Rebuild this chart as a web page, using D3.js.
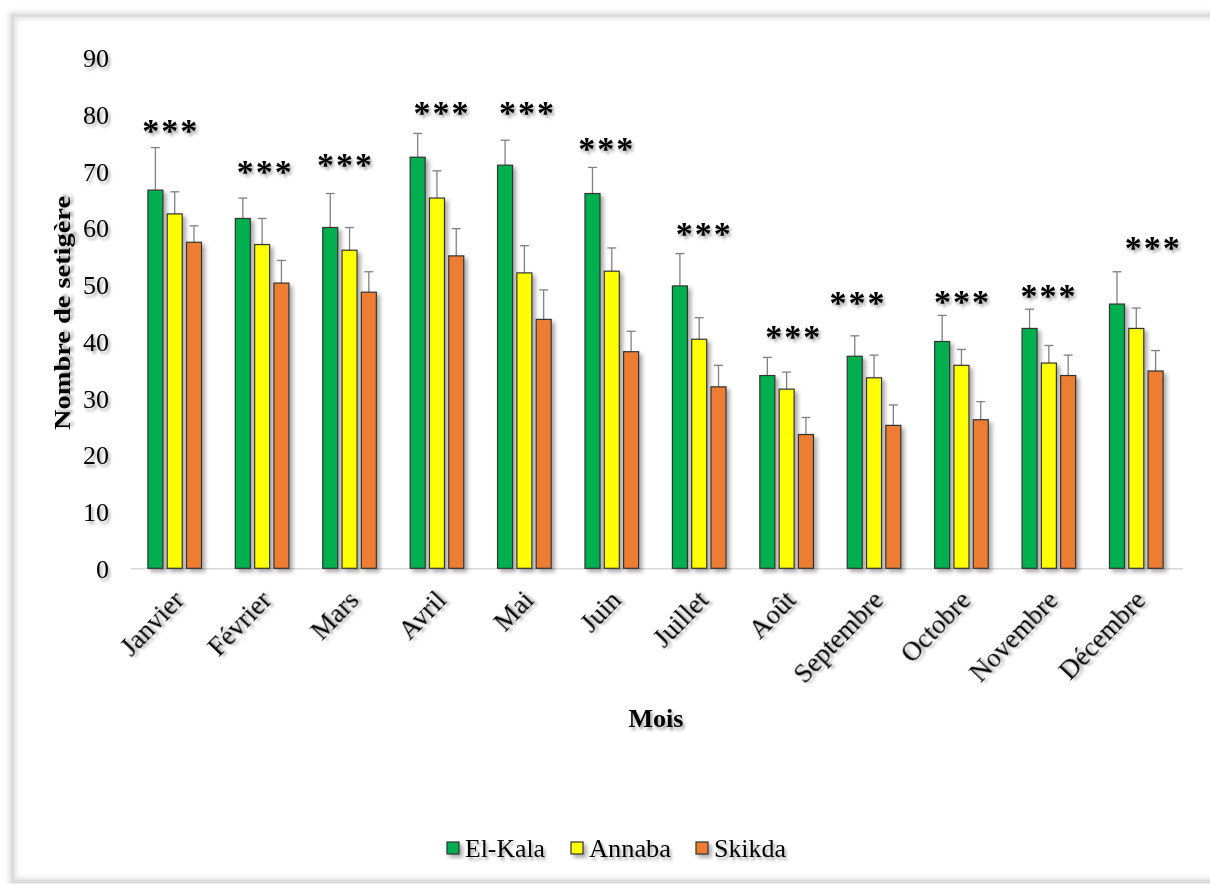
<!DOCTYPE html>
<html><head><meta charset="utf-8">
<script src="https://cdn.jsdelivr.net/npm/d3@7"></script>
<style>
html,body{margin:0;padding:0;background:#fff;}
svg{display:block;}
text{font-family:"Liberation Serif","Times New Roman",serif;fill:#000;}
</style></head>
<body><svg id="c" width="1210" height="884"></svg>
<script>
const months = ["Janvier","Février","Mars","Avril","Mai","Juin","Juillet","Août","Septembre","Octobre","Novembre","Décembre"];
const seriesNames = ["El-Kala","Annaba","Skikda"];
const elKala = [66.7,61.7,60.1,72.5,71.1,66.1,49.8,34.0,37.4,40.0,42.3,46.6];
const annaba = [62.5,57.1,56.1,65.3,52.1,52.4,40.4,31.6,33.6,35.8,36.2,42.3];
const skikda = [57.5,50.3,48.7,55.1,43.9,38.2,32.0,23.6,25.2,26.2,34.0,34.8];
const elKalaErr = [7.5,3.6,6.0,4.2,4.4,4.6,5.7,3.2,3.6,4.6,3.4,5.7];
const annabaErr = [3.9,4.6,4.0,4.8,4.8,4.1,3.8,3.0,4.0,2.8,3.1,3.6];
const skikdaErr = [2.9,4.0,3.6,4.8,5.2,3.6,3.8,3.0,3.6,3.2,3.6,3.6];
const sigLabels = ["***","***","***","***","***","***","***","***","***","***","***","***"];
const sigLevel = [78.5,71.3,72.4,81.7,81.7,75.3,60.4,42.2,48.1,48.4,49.3,57.9];
const yTicks = [0,10,20,30,40,50,60,70,80,90];
const colors = ["#00b050","#ffff00","#ed7d31"];

const values = [elKala, annaba, skikda];
const errs = [elKalaErr, annabaErr, skikdaErr];

const svg = d3.select("#c");
const defs = svg.append("defs");
const f = defs.append("filter").attr("id","sh").attr("x","-50%").attr("y","-50%").attr("width","200%").attr("height","200%");
f.append("feDropShadow").attr("dx",3).attr("dy",3).attr("stdDeviation",2).attr("flood-color","#000").attr("flood-opacity",0.35);
const ft = defs.append("filter").attr("id","tsh").attr("x","-20%").attr("y","-30%").attr("width","140%").attr("height","170%");
ft.append("feDropShadow").attr("dx",2).attr("dy",3).attr("stdDeviation",1.6).attr("flood-color","#000").attr("flood-opacity",0.35);
const fb = defs.append("filter").attr("id","bsh").attr("x","-5%").attr("y","-5%").attr("width","110%").attr("height","110%");
fb.append("feGaussianBlur").attr("stdDeviation",2);

// frame
svg.append("rect").attr("x",12.5).attr("y",15.5).attr("width",1260).attr("height",866)
  .attr("fill","none").attr("stroke","#e4e4e4").attr("stroke-width",8).attr("filter","url(#bsh)");
svg.append("rect").attr("x",12.5).attr("y",15.5).attr("width",1260).attr("height",866)
  .attr("fill","none").attr("stroke","#dcdcdc").attr("stroke-width",3);

const x0 = d3.scaleBand().domain(months).range([131,1180]).paddingInner(0).paddingOuter(0);
const y = d3.scaleLinear().domain([0,90]).range([568.3,58]);
const barW = 15, barStep = 19.3;

// y tick labels
const ya = svg.append("g").attr("transform","translate(109,0)")
  .call(d3.axisLeft(y).tickValues(yTicks).tickSize(0).tickPadding(0));
ya.select(".domain").remove();
ya.selectAll("text").attr("font-family","Liberation Serif, serif").attr("font-size",26).attr("fill","#000").attr("filter","url(#tsh)").attr("dy","0.34em");

// baseline
const xa = svg.append("g").attr("transform","translate(0,568.3)")
  .call(d3.axisBottom(x0).tickSize(0).tickFormat(""));
xa.select(".domain").attr("stroke","#d9d9d9").attr("stroke-width",1.5).attr("d","M131,0.5H1183");

// bars
const groups = svg.append("g").selectAll("g").data(months).join("g")
  .attr("transform", d => `translate(${x0(d)+x0.bandwidth()/2},0)`);
values.forEach((vals, s) => {
  const off = (s-1)*barStep;
  groups.append("line")
    .attr("x1", off).attr("x2", off)
    .attr("y1", (d,i)=>y(vals[i])).attr("y2",(d,i)=>y(vals[i]+errs[s][i]))
    .attr("stroke","#808080").attr("stroke-width",1.3);
  groups.append("line")
    .attr("x1", off-4.5).attr("x2", off+4.5)
    .attr("y1", (d,i)=>y(vals[i]+errs[s][i])).attr("y2",(d,i)=>y(vals[i]+errs[s][i]))
    .attr("stroke","#808080").attr("stroke-width",1.3);
  groups.append("rect")
    .attr("x", off-barW/2).attr("width", barW)
    .attr("y",(d,i)=>y(vals[i])).attr("height",(d,i)=>y(0)-y(vals[i]))
    .attr("fill",colors[s]).attr("stroke","#333").attr("stroke-width",1.2)
    .attr("filter","url(#sh)");
});

// significance labels (text-box offsets relative to group centre)
const sigDx = [-5,2,-5,4,2,-6,4,6,-17,0,-1,16];
groups.append("text")
  .attr("x",(d,i)=>sigDx[i]+1).attr("y",(d,i)=>y(sigLevel[i]))
  .attr("dy","0.55em").attr("text-anchor","middle")
  .attr("font-family","DejaVu Sans, sans-serif").attr("font-weight","bold").attr("font-size",34).attr("letter-spacing",2)
  .attr("filter","url(#tsh)")
  .text((d,i)=>sigLabels[i]);

// x labels rotated
groups.append("text")
  .attr("transform","translate(5,596) rotate(-46)")
  .attr("text-anchor","end").attr("font-size",27).attr("dy","0.3em")
  .attr("filter","url(#tsh)")
  .text(d=>d);

// axis titles
svg.append("text").attr("transform","translate(70,313) rotate(-90)")
  .attr("text-anchor","middle").attr("font-size",23).attr("font-weight","bold")
  .attr("textLength",234).attr("lengthAdjust","spacingAndGlyphs")
  .attr("filter","url(#tsh)").text("Nombre de setigère");
svg.append("text").attr("x",656).attr("y",727).attr("text-anchor","middle")
  .attr("font-size",25).attr("font-weight","bold")
  .attr("textLength",55).attr("lengthAdjust","spacingAndGlyphs")
  .attr("filter","url(#tsh)").text("Mois");

// legend
const legX = [447,571,696];
const legLen = [80,82,72];
const leg = svg.append("g").selectAll("g").data(seriesNames).join("g")
  .attr("transform",(d,i)=>`translate(${legX[i]},842)`);
leg.append("rect").attr("width",12).attr("height",12).attr("fill",(d,i)=>colors[i])
  .attr("stroke","#333").attr("stroke-width",1.2).attr("filter","url(#sh)");
leg.append("text").attr("x",18).attr("y",6).attr("dy","0.36em").attr("font-size",26)
  .attr("textLength",(d,i)=>legLen[i]).attr("lengthAdjust","spacingAndGlyphs")
  .attr("filter","url(#tsh)").text(d=>d);
</script></body></html>
